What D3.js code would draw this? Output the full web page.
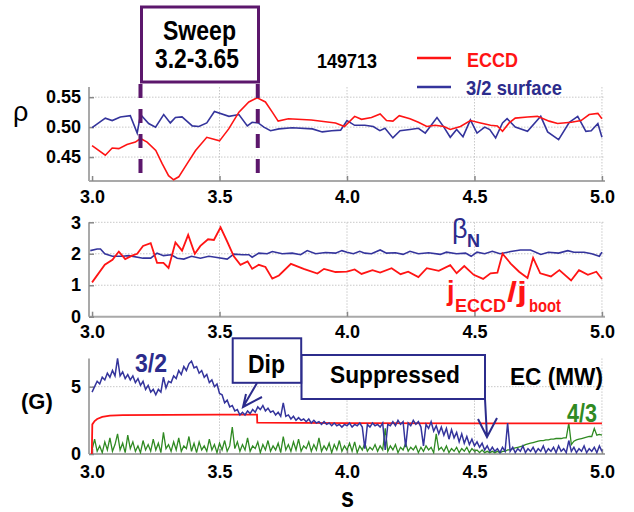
<!DOCTYPE html>
<html><head><meta charset="utf-8">
<script src="https://cdn.jsdelivr.net/npm/d3@7"></script>
<style>body{margin:0;background:#fff}svg{display:block}text{font-family:"Liberation Sans",Arial,Helvetica,sans-serif}</style>
</head><body><svg id="c" width="634" height="512"></svg>
<script>
// ---------- data ----------
const xTicks = [3.0, 3.5, 4.0, 4.5, 5.0];
const rhoTicks = [0.45, 0.50, 0.55];
const betaTicks = [0, 1, 2, 3];
const ampTicks = [0, 5];
const sweep = [3.19, 3.65];

const rhoEccd = [[3.0,0.469],[3.052,0.453],[3.079,0.465],[3.105,0.464],[3.137,0.471],[3.17,0.475],[3.19,0.481],[3.216,0.475],[3.25,0.461],[3.275,0.439],[3.30,0.419],[3.32,0.412],[3.34,0.417],[3.373,0.439],[3.406,0.461],[3.45,0.483],[3.50,0.477],[3.536,0.497],[3.576,0.525],[3.615,0.542],[3.648,0.549],[3.68,0.542],[3.707,0.525],[3.73,0.510],[3.77,0.514],[3.86,0.512],[3.955,0.507],[3.99,0.501],[4.03,0.518],[4.057,0.513],[4.096,0.516],[4.13,0.522],[4.155,0.511],[4.18,0.510],[4.205,0.519],[4.247,0.514],[4.28,0.508],[4.313,0.501],[4.346,0.503],[4.38,0.501],[4.405,0.496],[4.445,0.501],[4.484,0.511],[4.524,0.507],[4.563,0.503],[4.59,0.502],[4.61,0.493],[4.636,0.507],[4.66,0.515],[4.708,0.517],[4.747,0.518],[4.793,0.510],[4.826,0.506],[4.88,0.508],[4.918,0.511],[4.95,0.521],[4.984,0.523],[5.0,0.514]];

const rhoQ32 = [[3.0,0.499],[3.026,0.507],[3.052,0.515],[3.079,0.511],[3.111,0.517],[3.15,0.519],[3.177,0.49],[3.19,0.521],[3.222,0.506],[3.249,0.50],[3.281,0.521],[3.307,0.507],[3.327,0.516],[3.353,0.517],[3.393,0.502],[3.419,0.501],[3.45,0.507],[3.48,0.526],[3.537,0.518],[3.576,0.521],[3.609,0.502],[3.628,0.508],[3.652,0.507],[3.674,0.50],[3.70,0.494],[3.733,0.497],[3.785,0.499],[3.864,0.497],[3.903,0.492],[3.94,0.494],[3.975,0.495],[4.0,0.511],[4.03,0.503],[4.07,0.503],[4.103,0.501],[4.129,0.494],[4.149,0.498],[4.18,0.482],[4.208,0.494],[4.247,0.496],[4.28,0.498],[4.307,0.49],[4.353,0.516],[4.38,0.50],[4.405,0.483],[4.43,0.496],[4.455,0.484],[4.484,0.512],[4.51,0.49],[4.54,0.50],[4.56,0.496],[4.583,0.482],[4.61,0.507],[4.628,0.514],[4.66,0.50],[4.708,0.493],[4.76,0.518],[4.787,0.492],[4.83,0.479],[4.872,0.508],[4.905,0.518],[4.937,0.493],[4.958,0.494],[4.984,0.506],[5.0,0.483]];

const betaN = [[2.993,2.1],[3.02,2.15],[3.033,2.15],[3.05,2.0],[3.08,1.92],[3.12,1.92],[3.144,1.94],[3.2,1.86],[3.23,1.86],[3.255,2.02],[3.28,1.94],[3.31,1.97],[3.334,1.86],[3.36,1.83],[3.39,1.92],[3.425,1.86],[3.458,1.92],[3.484,1.89],[3.53,1.83],[3.556,1.99],[3.59,1.97],[3.615,1.97],[3.628,1.89],[3.654,2.02],[3.687,2.0],[3.707,2.07],[3.746,2.0],[3.785,2.02],[3.818,1.97],[3.844,2.1],[3.877,2.0],[3.916,2.04],[3.955,2.02],[3.98,2.1],[4.0,2.05],[4.025,2.0],[4.05,2.08],[4.07,2.02],[4.096,2.0],[4.13,2.12],[4.155,2.02],[4.19,2.03],[4.22,1.98],[4.247,2.08],[4.28,2.0],[4.32,2.03],[4.366,1.98],[4.39,2.05],[4.43,2.0],[4.465,2.02],[4.487,1.92],[4.51,2.05],[4.54,2.0],[4.57,2.08],[4.6,2.0],[4.642,2.07],[4.68,2.12],[4.72,2.12],[4.76,1.98],[4.79,2.05],[4.83,2.02],[4.866,2.1],[4.89,2.05],[4.93,2.05],[4.96,2.0],[4.99,1.92],[5.0,2.05]];

const jRatio = [[3.0,1.09],[3.05,1.65],[3.08,1.81],[3.105,2.07],[3.13,1.83],[3.157,1.94],[3.177,2.0],[3.2,2.25],[3.23,2.34],[3.255,1.71],[3.28,1.71],[3.30,1.55],[3.327,2.36],[3.353,2.1],[3.377,2.6],[3.403,2.0],[3.425,2.25],[3.455,2.46],[3.478,2.44],[3.504,2.84],[3.53,2.39],[3.556,1.92],[3.582,1.65],[3.61,1.76],[3.628,1.52],[3.654,1.65],[3.68,1.58],[3.707,1.21],[3.733,1.31],[3.78,1.68],[3.83,1.52],[3.884,1.37],[3.91,1.52],[3.955,1.42],[4.0,1.43],[4.03,1.5],[4.057,1.36],[4.1,1.48],[4.13,1.40],[4.175,1.54],[4.21,1.35],[4.24,1.43],[4.28,1.26],[4.313,1.54],[4.36,1.46],[4.405,1.64],[4.43,1.38],[4.46,1.61],[4.497,1.33],[4.534,1.2],[4.563,1.38],[4.59,1.4],[4.61,2.0],[4.642,1.69],[4.675,1.43],[4.708,1.23],[4.73,1.87],[4.758,1.38],[4.8,1.28],[4.833,1.48],[4.879,1.15],[4.91,1.48],[4.945,1.33],[4.978,1.43],[5.0,1.2]];

const ecPower = [[2.999,0],[3.001,2.2],[3.01,2.45],[3.02,2.6],[3.04,2.75],[3.07,2.85],[3.12,2.88],[3.3,2.9],[3.5,2.92],[3.647,2.92],[3.648,2.33],[4.0,2.3],[4.5,2.28],[5.0,2.28]];

// mode amplitudes sampled every 0.01 s from 3.00 s
const modeStart = 3.0, modeStep = 0.01;
const mode32 = [4.6,5.0,5.4,5.2,5.7,5.5,6.0,5.7,6.2,5.8, 7.1,5.8,6.1,5.6,5.9,5.5,5.8,5.3,5.6,5.1, 5.4,4.8,5.1,4.6,4.8,4.4,4.8,4.6,5.7,4.9, 5.4,5.3,5.8,5.6,6.2,5.9,6.5,6.2,6.7,6.9, 6.4,6.5,6.0,6.2,5.7,5.9,5.3,5.5,5.0,5.2, 4.5,4.4,3.8,4.0,3.5,3.6,3.2,3.3,2.9,3.1, 2.9,3.2,3.0,3.3,3.1,3.5,3.3,3.6,3.2,3.4, 3.1,3.2,2.9,3.1,2.8,3.8,2.8,2.9,2.6,2.8, 2.5,2.7,2.5,2.6,2.4,2.6,2.3,2.5,2.3,2.4, 2.2,2.4,2.2,2.3,2.1,2.3,2.1,2.2,2.0,2.2, 2.1,2.3,2.0,2.2,2.1,2.3,2.0,0.4,2.2,2.0, 2.3,2.1,2.2,2.0,2.3,0.3,2.2,2.1,2.4,2.1, 2.5,2.2,2.4,0.5,2.3,2.1,2.5,2.2,2.4,2.0, 0.6,2.2,1.9,2.4,1.7,2.1,1.5,2.0,1.4,1.9, 1.1,1.8,1.2,1.6,0.9,1.5,0.8,1.3,0.7,1.1, 0.6,0.9,0.5,0.8,0.3,0.6,0.2,0.5,0.2,0.4, 0.1,0.5,0.2,2.3,0.2,0.5,0.1,0.4,0.2,0.6, 0.1,0.4,0.2,0.5,0.1,0.4,0.2,0.6,0.1,0.4, 0.2,0.5,0.1,0.6,0.2,0.4,0.1,1.0,0.2,0.5, 0.1,0.4,0.2,0.6,0.1,0.4,0.2,0.5,0.1,0.6, 0.2];
const mode43 = [0.3,1.1,0.2,0.6,0.1,0.9,0.3,1.2,0.2,0.7, 1.5,0.3,0.8,0.1,1.4,0.4,0.9,0.2,0.6,0.1, 1.0,0.3,0.7,0.2,1.1,0.3,0.8,0.1,1.6,0.4, 0.7,0.2,0.9,0.3,1.2,0.2,0.6,0.4,1.3,0.2, 0.8,0.1,0.9,0.3,0.6,0.2,1.1,0.3,0.7,0.1, 0.8,0.3,1.0,0.2,0.6,2.0,0.4,0.9,0.2,0.7, 0.3,1.2,0.2,0.6,0.4,0.9,0.1,0.7,0.3,1.0, 0.2,0.6,0.3,0.8,0.1,1.3,0.3,0.7,0.2,0.9, 0.3,1.1,0.2,0.6,0.4,0.9,0.2,0.7,0.3,1.2, 0.2,0.6,0.3,0.8,0.1,0.7,0.3,1.0,0.2,0.6, 0.3,0.8,0.2,0.9,0.1,0.6,0.3,0.8,0.2,0.5, 0.3,0.7,0.2,0.6,0.3,1.9,0.2,0.6,0.3,0.7, 0.1,0.5,0.3,0.8,0.2,0.5,0.3,0.6,0.1,0.5, 0.2,0.6,0.3,0.5,0.1,1.5,0.3,0.5,0.2,0.6, 0.1,0.4,0.2,0.5,0.1,0.4,0.2,0.5,0.1,0.4, 0.2,0.3,0.1,0.3,0.1,0.2,0.1,0.2,0.1,0.2, 0.1,0.2,0.2,0.3,0.3,0.4,0.45,0.5,0.55,0.6, 0.7,0.75,0.8,0.85,0.9,0.95,1.0,1.0,1.05,1.05, 1.1,1.1,1.15,1.15,1.15,1.2,1.2,2.3,0.7,0.95, 1.05,1.1,1.15,1.2,1.25,1.3,1.3,1.9,1.4,1.45, 1.4];

// ---------- drawing ----------
const RED = '#ff1414', BLUE = '#34349c', NAVY = '#2c2c8c', GREEN = '#2f8a22', PURPLE = '#5c176c';
const GRID = '#c8c8c8', AXIS = '#a9a9a9';
const FONT = '"Liberation Sans",Arial,sans-serif';
const svg = d3.select('#c');

const x = d3.scaleLinear([2.988, 5.012], [89, 605]);
const y1 = d3.scaleLinear([0.41, 0.567], [181, 87]);
const y2 = d3.scaleLinear([0, 3], [316.7, 222.3]);
const y3 = d3.scaleLinear([0, 7.1], [454, 358.4]);

function frame(y, yTicks, fmt, xPad, id) {
  const [bot, top] = y.range();
  const g = svg.append('g');
  g.selectAll('.vg').data(xTicks.slice(1)).join('line')
    .attr('x1', d => x(d)).attr('x2', d => x(d)).attr('y1', top).attr('y2', bot)
    .attr('stroke', GRID).attr('stroke-width', 1).attr('stroke-dasharray', '1.5,1.5');
  g.selectAll('.hg').data(yTicks.filter(d => y(d) < bot - 1)).join('line')
    .attr('x1', x.range()[0]).attr('x2', x.range()[1]).attr('y1', d => y(d)).attr('y2', d => y(d))
    .attr('stroke', GRID).attr('stroke-width', 1).attr('stroke-dasharray', '1.5,1.5');
  g.append('line').attr('x1', x.range()[0]).attr('x2', x.range()[0]).attr('y1', top).attr('y2', bot)
    .attr('stroke', AXIS).attr('stroke-width', 2);
  g.append('line').attr('x1', x.range()[0]).attr('x2', x.range()[1]).attr('y1', bot).attr('y2', bot)
    .attr('stroke', AXIS).attr('stroke-width', 2);
  const ax = svg.append('g').attr('transform', `translate(0,${bot})`)
    .call(d3.axisBottom(x).tickValues(xTicks).tickFormat(d3.format('.1f')).tickSizeInner(-5).tickSizeOuter(0).tickPadding(xPad));
  ax.select('.domain').remove();
  ax.selectAll('line').attr('stroke', '#888').attr('stroke-width', 1.5);
  ax.selectAll('text').attr('font-family', FONT).attr('font-size', 18).attr('font-weight', 'bold').attr('fill', '#000');
  const ay = svg.append('g').attr('transform', `translate(${x.range()[0]},0)`)
    .call(d3.axisLeft(y).tickValues(yTicks).tickFormat(d3.format(fmt)).tickSizeInner(-5).tickSizeOuter(0).tickPadding(8));
  ay.select('.domain').remove();
  ay.selectAll('line').attr('stroke', '#888').attr('stroke-width', 1.5);
  ay.selectAll('text').attr('font-family', FONT).attr('font-size', 18).attr('font-weight', 'bold').attr('fill', '#000');
  svg.append('clipPath').attr('id', id).append('rect')
    .attr('x', x.range()[0]).attr('y', top - 1).attr('width', x.range()[1] - x.range()[0]).attr('height', bot - top + 1);
}

frame(y1, rhoTicks, '.2f', 9, 'c1');
frame(y2, betaTicks, 'd', 8.5, 'c2');
frame(y3, ampTicks, 'd', 11, 'c3');

const lineP = (y) => d3.line().x(d => x(d[0])).y(d => y(d[1]));
const lineM = d3.line().x((d, i) => x(modeStart + i * modeStep)).y(d => y3(d));

function label(xp, yp, str, size, opts = {}) {
  const t = svg.append('text').attr('x', xp).attr('y', yp).attr('font-size', size)
    .attr('font-weight', opts.normal ? 'normal' : 'bold').attr('fill', opts.fill || '#000').text(str);
  if (opts.len) t.attr('textLength', opts.len).attr('lengthAdjust', 'spacingAndGlyphs');
  return t;
}

// panel 1
const p1 = svg.append('g').attr('clip-path', 'url(#c1)');
p1.append('path').datum(rhoQ32).attr('d', lineP(y1)).attr('fill', 'none').attr('stroke', BLUE).attr('stroke-width', 1.6);
p1.append('path').datum(rhoEccd).attr('d', lineP(y1)).attr('fill', 'none').attr('stroke', RED).attr('stroke-width', 1.6);

svg.selectAll('.sw').data(sweep).join('line')
  .attr('x1', d => x(d)).attr('x2', d => x(d)).attr('y1', 84).attr('y2', y1.range()[0])
  .attr('stroke', PURPLE).attr('stroke-width', 4).attr('stroke-dasharray', '14,11');
svg.append('rect').attr('x', 141.5).attr('y', 7).attr('width', 117).attr('height', 75)
  .attr('fill', '#fff').attr('stroke', PURPLE).attr('stroke-width', 3);
label(163, 40, 'Sweep', 28, {len: 73});
label(155, 68, '3.2-3.65', 28, {len: 84});
label(317, 68, '149713', 20, {len: 60});

svg.append('line').attr('x1', 417).attr('x2', 451).attr('y1', 58).attr('y2', 58).attr('stroke', RED).attr('stroke-width', 2.5);
svg.append('line').attr('x1', 417).attr('x2', 451).attr('y1', 87).attr('y2', 87).attr('stroke', BLUE).attr('stroke-width', 2.5);
label(467, 67, 'ECCD', 21, {fill: RED, len: 51});
label(466, 95, '3/2 surface', 21, {fill: NAVY, len: 96});
label(13, 121, 'ρ', 27, {normal: true});

// panel 2
const p2 = svg.append('g').attr('clip-path', 'url(#c2)');
p2.append('path').datum(betaN).attr('d', lineP(y2)).attr('fill', 'none').attr('stroke', BLUE).attr('stroke-width', 1.6);
p2.append('path').datum(jRatio).attr('d', lineP(y2)).attr('fill', 'none').attr('stroke', RED).attr('stroke-width', 1.8);
label(452, 238, 'β', 27, {normal: true, fill: NAVY});
label(467, 247, 'N', 18, {fill: NAVY});
label(447, 300, 'j', 27, {fill: RED});
label(455, 312, 'ECCD', 18, {fill: RED});
label(507, 301, '/j', 27, {fill: RED, len: 20});
label(529, 312, 'boot', 18, {fill: RED, len: 32});

// panel 3
const p3 = svg.append('g').attr('clip-path', 'url(#c3)');
p3.append('path').datum(mode43).attr('d', lineM).attr('fill', 'none').attr('stroke', GREEN).attr('stroke-width', 1.3);
p3.append('path').datum(ecPower).attr('d', lineP(y3)).attr('fill', 'none').attr('stroke', RED).attr('stroke-width', 1.8);
p3.append('path').datum(mode32).attr('d', lineM).attr('fill', 'none').attr('stroke', BLUE).attr('stroke-width', 1.5);

label(21, 409, '(G)', 22);
label(135, 372, '3/2', 25, {fill: NAVY, len: 32});
svg.append('rect').attr('x', 301.5).attr('y', 355).attr('width', 183.5).attr('height', 44)
  .attr('fill', '#fff').attr('stroke', NAVY).attr('stroke-width', 2);
label(330, 383, 'Suppressed', 24, {len: 130});
svg.append('path').attr('d', 'M485,399 L487,437 M478,419 L487,437 L497,418')
  .attr('fill', 'none').attr('stroke', NAVY).attr('stroke-width', 2);
svg.append('rect').attr('x', 232.7).attr('y', 338.3).attr('width', 68.5).attr('height', 44.5)
  .attr('fill', '#fff').attr('stroke', NAVY).attr('stroke-width', 2);
label(248, 373, 'Dip', 25, {len: 37});
svg.append('path').attr('d', 'M257,383 L243,407 M246,394 L243,407 L262,397')
  .attr('fill', 'none').attr('stroke', NAVY).attr('stroke-width', 2);

label(510, 385, 'EC (MW)', 24, {len: 93});
label(567, 422, '4/3', 25, {fill: GREEN, len: 30});
label(341, 507, 's', 27, {len: 13});
</script></body></html>
